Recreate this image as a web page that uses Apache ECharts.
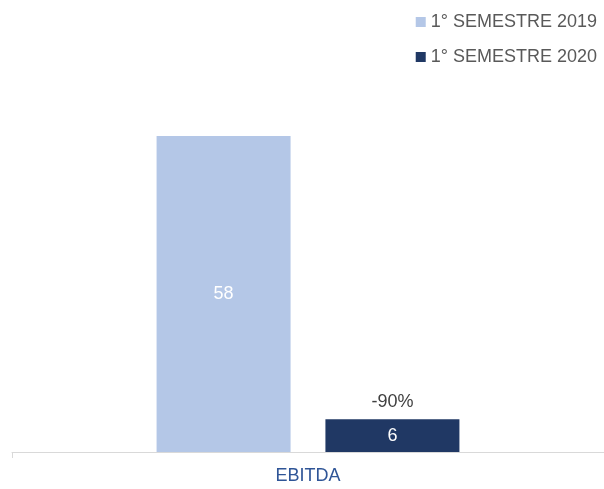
<!DOCTYPE html>
<html>
<head>
<meta charset="utf-8">
<script src="https://cdn.jsdelivr.net/npm/echarts@6/dist/echarts.min.js"></script>
<style>
  html, body { margin: 0; padding: 0; background: #fff; }
  #chart { width: 604px; height: 489px; }
</style>
</head>
<body>
<div id="chart"></div>
<script>
// Data
var categories = ['EBITDA'];
var seriesNames = ['1° SEMESTRE 2019', '1° SEMESTRE 2020'];
var values2019 = [58];
var values2020 = [6];
var changeLabels = ['-90%'];

var chart = echarts.init(document.getElementById('chart'));

chart.setOption({
    animation: false,
    textStyle: {
        fontFamily: 'Liberation Sans, Arial, sans-serif'
    },

    // Setup grid
    grid: {
        left: 12,
        right: 0,
        top: 125,
        bottom: 37,
        containLabel: false
    },

    // Legend
    legend: {
        data: seriesNames,
        orient: 'vertical',
        right: 2,
        top: 8,
        icon: 'rect',
        itemWidth: 10,
        itemHeight: 10,
        itemGap: 17,
        textStyle: {
            color: '#595959',
            fontSize: 18
        }
    },

    xAxis: [{
        type: 'category',
        data: categories,
        axisLine: {
            lineStyle: { color: '#d9d9d9', width: 1 }
        },
        axisTick: {
            show: true,
            length: 6,
            lineStyle: { color: '#d9d9d9' }
        },
        axisLabel: {
            color: '#2f5597',
            fontSize: 18,
            margin: 15
        }
    }],

    yAxis: [{
        type: 'value',
        min: 0,
        max: 60,
        show: false,
        splitLine: { show: false }
    }],

    series: [
        {
            name: seriesNames[0],
            type: 'bar',
            barWidth: 134,
            barGap: '26%',
            itemStyle: { color: '#b4c7e7' },
            label: {
                show: true,
                position: 'inside',
                color: '#fff',
                fontSize: 18
            },
            data: values2019
        },
        {
            name: seriesNames[1],
            type: 'bar',
            stack: 'y2020',
            barWidth: 134,
            itemStyle: { color: '#203864' },
            label: {
                show: true,
                position: 'inside',
                color: '#fff',
                fontSize: 18
            },
            data: values2020
        },
        {
            name: 'change',
            type: 'bar',
            stack: 'y2020',
            barWidth: 134,
            itemStyle: { color: 'transparent' },
            label: {
                show: true,
                position: 'top',
                distance: 8,
                color: '#404040',
                fontSize: 18,
                formatter: function (p) { return changeLabels[p.dataIndex]; }
            },
            data: [0]
        }
    ]
});
</script>
</body>
</html>
